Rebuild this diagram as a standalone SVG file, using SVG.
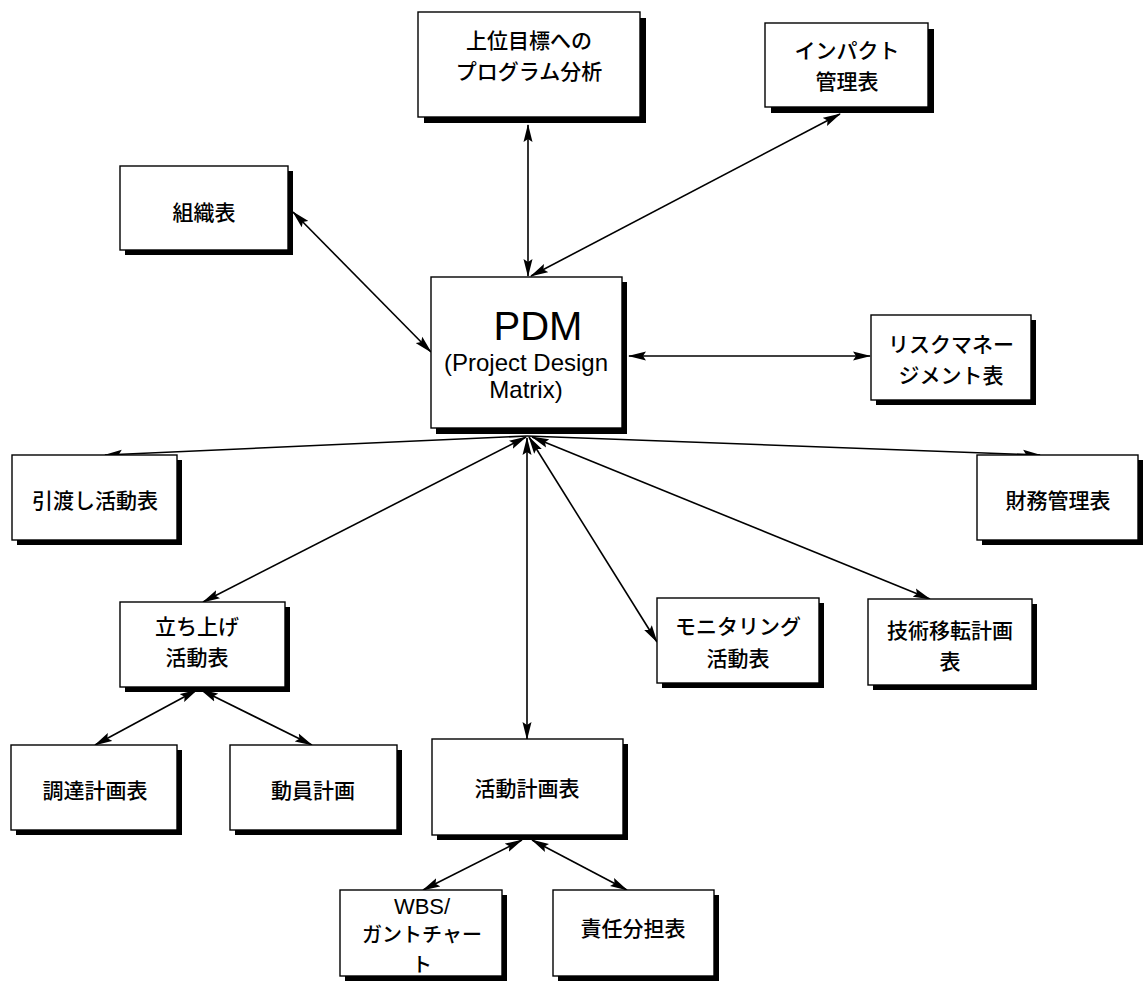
<svg xmlns="http://www.w3.org/2000/svg" width="1144" height="990" viewBox="0 0 1144 990">
<defs>
<style>
.box{fill:#fff;stroke:#000;stroke-width:1.4}
.sh{fill:#000}
.t{font-family:"Noto Sans CJK JP","Noto Sans",sans-serif;font-size:21px;font-weight:500;fill:#000;text-anchor:middle}
.l{font-family:"Liberation Sans",Arial,sans-serif;fill:#000;text-anchor:middle}
.c{fill:none;stroke:#000;stroke-width:1.6}
</style>
<marker id="ah" markerUnits="userSpaceOnUse" markerWidth="18" markerHeight="10" refX="17" refY="5" orient="auto-start-reverse" viewBox="0 0 18 10">
<path d="M0,0.5 L18,5 L0,9.5 L3,5 z" fill="#000"/>
</marker>
</defs>
<rect width="1144" height="990" fill="#fff"/>

<g id="connectors">
<line class="c" x1="528" y1="125" x2="528" y2="276" marker-start="url(#ah)" marker-end="url(#ah)"/>
<line class="c" x1="840" y1="114" x2="531" y2="276" marker-start="url(#ah)" marker-end="url(#ah)"/>
<line class="c" x1="293" y1="212" x2="431" y2="352" marker-start="url(#ah)" marker-end="url(#ah)"/>
<line class="c" x1="629" y1="356" x2="870" y2="356" marker-start="url(#ah)" marker-end="url(#ah)"/>
<line class="c" x1="527" y1="436" x2="105" y2="455" marker-end="url(#ah)"/>
<line class="c" x1="527" y1="436" x2="1040" y2="455" marker-end="url(#ah)"/>
<line class="c" x1="526" y1="437" x2="203" y2="602" marker-start="url(#ah)" marker-end="url(#ah)"/>
<line class="c" x1="527" y1="438" x2="527" y2="739" marker-start="url(#ah)" marker-end="url(#ah)"/>
<line class="c" x1="529" y1="437" x2="657" y2="642" marker-start="url(#ah)" marker-end="url(#ah)"/>
<line class="c" x1="532" y1="437" x2="930" y2="599" marker-start="url(#ah)" marker-end="url(#ah)"/>
<line class="c" x1="197" y1="690" x2="95" y2="745" marker-start="url(#ah)" marker-end="url(#ah)"/>
<line class="c" x1="201" y1="690" x2="312" y2="745" marker-start="url(#ah)" marker-end="url(#ah)"/>
<line class="c" x1="522" y1="840" x2="423" y2="890" marker-start="url(#ah)" marker-end="url(#ah)"/>
<line class="c" x1="532" y1="840" x2="627" y2="890" marker-start="url(#ah)" marker-end="url(#ah)"/>
</g>

<g id="n_goal">
<rect class="sh" x="424" y="18" width="222" height="105"/>
<rect class="box" x="418" y="12" width="222" height="105"/>
<text class="t" x="529" y="48">上位目標への</text>
<text class="t" x="529" y="79">プログラム分析</text>
</g>

<g id="n_impact">
<rect class="sh" x="771" y="29" width="163" height="84"/>
<rect class="box" x="765" y="23" width="163" height="84"/>
<text class="t" x="847" y="58">インパクト</text>
<text class="t" x="847" y="89">管理表</text>
</g>

<g id="n_org">
<rect class="sh" x="125" y="171" width="168" height="84"/>
<rect class="box" x="120" y="166" width="168" height="84"/>
<text class="t" x="204" y="220">組織表</text>
</g>

<g id="n_pdm">
<rect class="sh" x="436" y="282" width="191" height="152"/>
<rect class="box" x="431" y="277" width="191" height="151"/>
<text class="l" x="538" y="340" style="font-size:40px">PDM</text>
<text class="l" x="526" y="371" style="font-size:24px">(Project Design</text>
<text class="l" x="526" y="398" style="font-size:24px">Matrix)</text>
</g>

<g id="n_risk">
<rect class="sh" x="876" y="320" width="160" height="85"/>
<rect class="box" x="871" y="315" width="160" height="85"/>
<text class="t" x="951" y="352">リスクマネー</text>
<text class="t" x="951" y="383">ジメント表</text>
</g>

<g id="n_handover">
<rect class="sh" x="17" y="460" width="165" height="85"/>
<rect class="box" x="12" y="455" width="165" height="85"/>
<text class="t" x="95" y="508">引渡し活動表</text>
</g>

<g id="n_finance">
<rect class="sh" x="982" y="460" width="161" height="85"/>
<rect class="box" x="977" y="455" width="161" height="85"/>
<text class="t" x="1058" y="508">財務管理表</text>
</g>

<g id="n_startup">
<rect class="sh" x="125" y="607" width="165" height="85"/>
<rect class="box" x="120" y="602" width="165" height="85"/>
<text class="t" x="197" y="634">立ち上げ</text>
<text class="t" x="197" y="665">活動表</text>
</g>

<g id="n_monitor">
<rect class="sh" x="662" y="603" width="162" height="85"/>
<rect class="box" x="657" y="598" width="162" height="85"/>
<text class="t" x="738" y="634">モニタリング</text>
<text class="t" x="738" y="666">活動表</text>
</g>

<g id="n_transfer">
<rect class="sh" x="873" y="604" width="164" height="86"/>
<rect class="box" x="868" y="599" width="164" height="86"/>
<text class="t" x="950" y="638">技術移転計画</text>
<text class="t" x="950" y="669">表</text>
</g>

<g id="n_procure">
<rect class="sh" x="16" y="750" width="166" height="85"/>
<rect class="box" x="11" y="745" width="166" height="85"/>
<text class="t" x="95" y="798">調達計画表</text>
</g>

<g id="n_mobil">
<rect class="sh" x="235" y="750" width="167" height="85"/>
<rect class="box" x="230" y="745" width="167" height="85"/>
<text class="t" x="313" y="798">動員計画</text>
</g>

<g id="n_activity">
<rect class="sh" x="437" y="744" width="191" height="96"/>
<rect class="box" x="432" y="739" width="191" height="96"/>
<text class="t" x="527" y="796">活動計画表</text>
</g>

<g id="n_wbs">
<rect class="sh" x="345" y="895" width="162" height="86"/>
<rect class="box" x="340" y="890" width="162" height="86"/>
<text class="l" x="422" y="914" style="font-size:22px">WBS/</text>
<text class="t" x="422" y="942" style="font-size:20px">ガントチャー</text>
<text class="t" x="422" y="972" style="font-size:20px">ト</text>
</g>

<g id="n_resp">
<rect class="sh" x="558" y="895" width="161" height="86"/>
<rect class="box" x="553" y="890" width="161" height="86"/>
<text class="t" x="633" y="936">責任分担表</text>
</g>
</svg>
